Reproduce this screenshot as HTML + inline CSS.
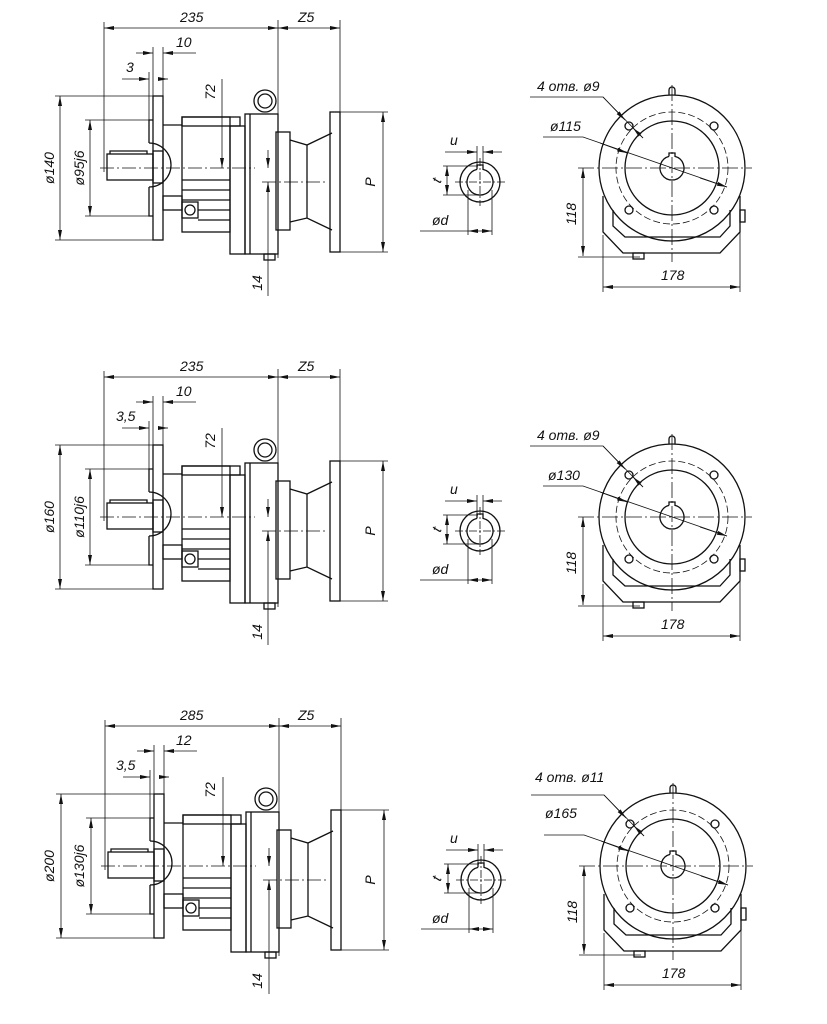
<!DOCTYPE html>
<html><head><meta charset="utf-8"><style>
html,body{margin:0;padding:0;background:#fff;}
svg{display:block;}
text{font-family:"Liberation Sans",sans-serif;font-style:italic;font-size:14px;fill:#111;}
</style></head><body>
<svg width="827" height="1024" viewBox="0 0 827 1024" xmlns="http://www.w3.org/2000/svg">
<defs>
<marker id="a" viewBox="0 0 10 4" refX="10" refY="2" markerWidth="10" markerHeight="4" markerUnits="userSpaceOnUse" orient="auto-start-reverse"><path d="M0,0 L10,2 L0,4z" fill="#111"/></marker>
<g id="row" fill="none" stroke="#111">
 <!-- side view -->
 <g stroke-width="0.8">
  <line x1="104" y1="28" x2="278" y2="28" marker-start="url(#a)" marker-end="url(#a)"/>
  <line x1="278" y1="28" x2="340" y2="28" marker-start="url(#a)" marker-end="url(#a)"/>
  <line x1="104" y1="22" x2="104" y2="172"/>
  <line x1="278" y1="20" x2="278" y2="258"/>
  <line x1="340" y1="20" x2="340" y2="112"/>
  <line x1="136" y1="53" x2="153" y2="53" marker-end="url(#a)"/>
  <line x1="163" y1="53" x2="196" y2="53" marker-start="url(#a)"/>
  <line x1="153" y1="47" x2="153" y2="96"/>
  <line x1="163" y1="47" x2="163" y2="96"/>
  <line x1="122" y1="79" x2="149" y2="79" marker-end="url(#a)"/>
  <line x1="163" y1="79" x2="168" y2="79" marker-end="url(#a)" />
  <line x1="149" y1="72" x2="149" y2="120"/>
  <line x1="55" y1="96" x2="153" y2="96"/>
  <line x1="55" y1="240" x2="153" y2="240"/>
  <line x1="60" y1="96" x2="60" y2="240" marker-start="url(#a)" marker-end="url(#a)"/>
  <line x1="85" y1="120" x2="149" y2="120"/>
  <line x1="85" y1="216" x2="149" y2="216"/>
  <line x1="90" y1="120" x2="90" y2="216" marker-start="url(#a)" marker-end="url(#a)"/>
  <line x1="222" y1="79" x2="222" y2="168" marker-end="url(#a)"/>
  <line x1="218" y1="117" x2="232" y2="117"/>
  <line x1="268" y1="150" x2="268" y2="168" marker-end="url(#a)"/>
  <line x1="268" y1="200" x2="268" y2="182" marker-end="url(#a)"/>
  <line x1="268" y1="200" x2="268" y2="296"/>
  <line x1="340" y1="112" x2="388" y2="112"/>
  <line x1="340" y1="252" x2="388" y2="252"/>
  <line x1="383" y1="112" x2="383" y2="252" marker-start="url(#a)" marker-end="url(#a)"/>
  <line x1="100" y1="168" x2="255" y2="168" stroke-dasharray="14 3 2 3"/>
  <line x1="262" y1="182" x2="325" y2="182" stroke-dasharray="14 3 2 3"/>
 </g>
 <g stroke-width="1.3">
  <rect x="153" y="96" width="10" height="144"/>
  <path d="M153,120 H149 V143 M149,187 V216 H153"/>
  <path d="M149,143 A22,22 0 0 1 171,165 A22,22 0 0 1 149,187"/>
  <rect x="107" y="154" width="46" height="26"/>
  <rect x="153" y="151" width="10" height="32"/>
  <path d="M110,154 V151 H147 V154"/>
  <line x1="163" y1="125" x2="182" y2="125"/>
  <rect x="182" y="117" width="48" height="115"/>
  <rect x="182" y="117" width="58" height="9"/>
  <line x1="182" y1="180" x2="230" y2="180"/>
  <line x1="182" y1="190" x2="230" y2="190"/>
  <line x1="182" y1="200" x2="230" y2="200"/>
  <line x1="198" y1="210" x2="230" y2="210"/>
  <line x1="198" y1="220" x2="230" y2="220"/>
  <rect x="163" y="196" width="19" height="14"/>
  <rect x="182" y="202" width="16" height="16"/>
  <circle cx="190" cy="210" r="5"/>
  <rect x="230" y="126" width="15" height="128"/>
  <rect x="245" y="114" width="33" height="140"/>
  <line x1="250" y1="114" x2="250" y2="254"/>
  <circle cx="265" cy="101" r="11"/>
  <circle cx="265" cy="101" r="7"/>
  <rect x="264" y="254" width="11" height="6"/>
  <rect x="276" y="132" width="14" height="98"/>
  <path d="M290,140 L307,145 L332,133 M332,230 L307,218 L290,222 M307,145 V218"/>
  <rect x="330" y="112" width="10" height="140"/>
 </g>
 <!-- shaft section -->
 <g stroke-width="0.8">
  <line x1="445" y1="152" x2="477" y2="152" marker-end="url(#a)"/>
  <line x1="502" y1="152" x2="483" y2="152" marker-end="url(#a)"/>
  <line x1="477" y1="146" x2="477" y2="168"/><line x1="483" y1="146" x2="483" y2="168"/>
  <line x1="443" y1="166" x2="478" y2="166"/><line x1="443" y1="195" x2="478" y2="195"/>
  <line x1="447" y1="166" x2="447" y2="195" marker-start="url(#a)" marker-end="url(#a)"/>
  <line x1="468" y1="190" x2="468" y2="235"/><line x1="492" y1="190" x2="492" y2="235"/>
  <line x1="420" y1="231" x2="468" y2="231"/>
  <line x1="468" y1="231" x2="492" y2="231" marker-start="url(#a)" marker-end="url(#a)"/>
  <line x1="455" y1="182" x2="505" y2="182" stroke-dasharray="8 2 2 2"/>
  <line x1="480" y1="158" x2="480" y2="206" stroke-dasharray="8 2 2 2"/>
 </g>
 <g stroke-width="1.3">
  <circle cx="480" cy="182" r="20"/>
  <path d="M477,169.4 V165 H483 V169.4 A13,13 0 1 1 477,169.4"/>
 </g>
 <!-- front view -->
 <g stroke-width="0.8">
  <line x1="578" y1="168" x2="752" y2="168" stroke-dasharray="16 3 2 3"/>
  <line x1="672" y1="85" x2="672" y2="262" stroke-dasharray="16 3 2 3"/>
  <circle cx="672" cy="168" r="56" stroke-dasharray="7 3"/>
  <line x1="583" y1="168" x2="583" y2="256" marker-start="url(#a)" marker-end="url(#a)"/>
  <line x1="578" y1="257" x2="640" y2="257"/>
  <line x1="603" y1="235" x2="603" y2="292"/><line x1="740" y1="222" x2="740" y2="292"/>
  <line x1="603" y1="287" x2="740" y2="287" marker-start="url(#a)" marker-end="url(#a)"/>
  <path d="M530,97 H603 L643,138"/>
  <line x1="603" y1="97" x2="625" y2="120" marker-end="url(#a)"/>
  <line x1="643" y1="138" x2="633" y2="128" marker-end="url(#a)"/>
  <path d="M543,137 H583 L727,187"/>
  <line x1="600" y1="143" x2="627" y2="153" marker-end="url(#a)"/>
  <line x1="700" y1="178" x2="727" y2="187" marker-end="url(#a)"/>
 </g>
 <g stroke-width="1.3">
  <circle cx="672" cy="168" r="73"/>
  <circle cx="672" cy="168" r="47"/>
  <path d="M669,156.4 V153 H675 V156.4 A12,12 0 1 1 669,156.4"/>
  <circle cx="629" cy="126" r="4"/><circle cx="714" cy="126" r="4"/>
  <circle cx="629" cy="210" r="4"/><circle cx="714" cy="210" r="4"/>
  <path d="M669,95 V90 A3,3 0 0 1 675,90 V95"/>
  <path d="M603,196 V232 L623,253 H720 L740,232 V196"/>
  <path d="M613,210 V226 L625,237 H720 L730,226 V210"/>
  <rect x="740" y="210" width="5" height="12"/>
  <rect x="633" y="253" width="11" height="6"/>
 </g>
</g>
</defs>

<use href="#row"/>
<use href="#row" transform="translate(0,349)"/>
<use href="#row" transform="translate(1,698)"/>

<!-- Row 1 labels -->
<text x="180" y="22">235</text>
<text x="298" y="22">Z5</text>
<text x="176" y="47">10</text>
<text x="126" y="72">3</text>
<text transform="translate(54,168) rotate(-90)" text-anchor="middle">ø140</text>
<text transform="translate(84,168) rotate(-90)" text-anchor="middle">ø95j6</text>
<text transform="translate(215,92) rotate(-90)" text-anchor="middle">72</text>
<text transform="translate(262,283) rotate(-90)" text-anchor="middle">14</text>
<text transform="translate(375,182) rotate(-90)" text-anchor="middle">P</text>
<text x="450" y="145">u</text>
<text transform="translate(441,182) rotate(-70)" text-anchor="middle" font-size="11">t</text>
<text x="432" y="225">ød</text>
<text x="537" y="91">4 отв. ø9</text>
<text x="550" y="131">ø115</text>
<text transform="translate(576,214) rotate(-90)" text-anchor="middle">118</text>
<text x="661" y="280">178</text>

<!-- Row 2 labels -->
<text x="180" y="371">235</text>
<text x="298" y="371">Z5</text>
<text x="176" y="396">10</text>
<text x="116" y="421">3,5</text>
<text transform="translate(54,517) rotate(-90)" text-anchor="middle">ø160</text>
<text transform="translate(84,517) rotate(-90)" text-anchor="middle">ø110j6</text>
<text transform="translate(215,441) rotate(-90)" text-anchor="middle">72</text>
<text transform="translate(262,632) rotate(-90)" text-anchor="middle">14</text>
<text transform="translate(375,531) rotate(-90)" text-anchor="middle">P</text>
<text x="450" y="494">u</text>
<text transform="translate(441,531) rotate(-70)" text-anchor="middle" font-size="11">t</text>
<text x="432" y="574">ød</text>
<text x="537" y="440">4 отв. ø9</text>
<text x="548" y="480">ø130</text>
<text transform="translate(576,563) rotate(-90)" text-anchor="middle">118</text>
<text x="661" y="629">178</text>

<!-- Row 3 labels -->
<text x="180" y="720">285</text>
<text x="298" y="720">Z5</text>
<text x="176" y="745">12</text>
<text x="116" y="770">3,5</text>
<text transform="translate(54,866) rotate(-90)" text-anchor="middle">ø200</text>
<text transform="translate(84,866) rotate(-90)" text-anchor="middle">ø130j6</text>
<text transform="translate(215,790) rotate(-90)" text-anchor="middle">72</text>
<text transform="translate(262,981) rotate(-90)" text-anchor="middle">14</text>
<text transform="translate(375,880) rotate(-90)" text-anchor="middle">P</text>
<text x="450" y="843">u</text>
<text transform="translate(441,880) rotate(-70)" text-anchor="middle" font-size="11">t</text>
<text x="432" y="923">ød</text>
<text x="535" y="782">4 отв. ø11</text>
<text x="545" y="818">ø165</text>
<text transform="translate(577,912) rotate(-90)" text-anchor="middle">118</text>
<text x="662" y="978">178</text>
</svg>
</body></html>
